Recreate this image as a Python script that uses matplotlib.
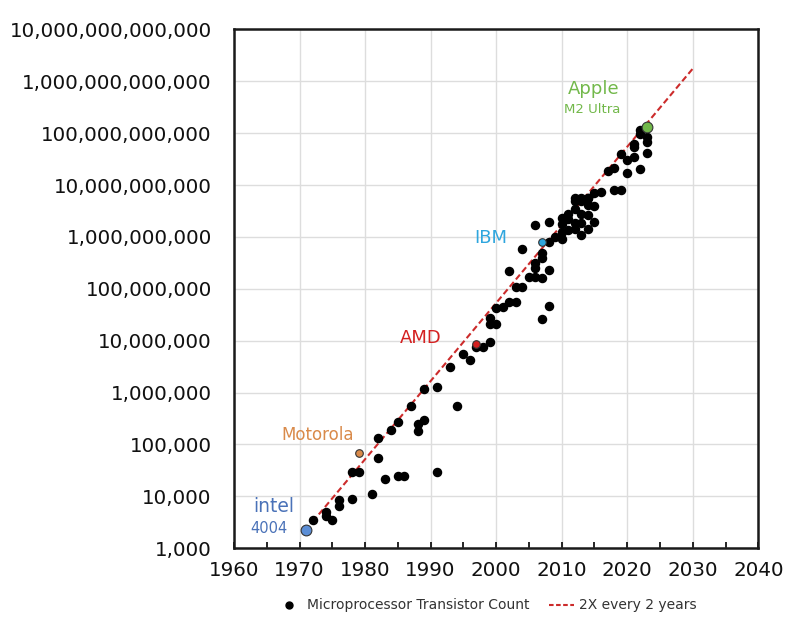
import numpy as np
import matplotlib.pyplot as plt
from matplotlib.ticker import FuncFormatter, MultipleLocator, NullLocator, FixedLocator
from matplotlib.lines import Line2D

plt.rcParams['font.family'] = ['DejaVu Sans']

# microprocessor transistor counts
years = [1972, 1974, 1974, 1975, 1976, 1976, 1978, 1978, 1979, 1981,
         1982, 1982, 1983, 1984, 1985, 1985, 1986, 1987, 1988, 1988,
         1989, 1989, 1991, 1991, 1993, 1994, 1995, 1996, 1997, 1998,
         1999, 1999, 1999, 2000, 2000, 2001, 2002, 2003, 2003, 2004,
         2005, 2002, 2004, 2006, 2006, 2006, 2007, 2007, 2007, 2007,
         2008, 2008, 2008, 2006, 2008, 2009, 2010, 2010, 2010, 2010,
         2011, 2011, 2011, 2012, 2012, 2012, 2012, 2013, 2013, 2013,
         2013, 2014, 2014, 2014, 2014, 2015, 2015, 2015, 2016, 2017,
         2018, 2018, 2019, 2019, 2020, 2020, 2021, 2021, 2021, 2022,
         2022, 2022, 2023, 2023, 2023, 2012, 2013, 2014]
counts = [3500, 4900, 4100, 3500, 8500, 6500, 9000, 29000, 29000, 11000,
          55000, 134000, 22000, 190000, 275000, 24500, 24500, 550000, 245000, 180000,
          300000, 1180000, 1300000, 29000, 3100000, 560000, 5500000, 4300000, 7500000, 7500000,
          9300000, 21000000, 27000000, 21000000, 42000000, 44000000, 55000000, 55000000, 110000000, 110000000,
          170000000, 220000000, 590000000, 170000000, 250000000, 310000000, 165000000, 480000000, 390000000, 26000000,
          47000000, 230000000, 780000000, 1700000000, 1900000000, 1000000000, 1260000000, 930000000, 2300000000, 1800000000,
          2800000000, 2200000000, 1350000000, 5000000000, 3400000000, 1400000000, 1860000000, 5000000000, 2800000000, 1860000000,
          1100000000, 5500000000, 4100000000, 2600000000, 1400000000, 6900000000, 4000000000, 1950000000, 7400000000, 19000000000,
          21000000000, 8000000000, 8000000000, 39000000000, 30000000000, 17000000000, 34000000000, 55000000000, 62000000000, 20000000000,
          95000000000, 117000000000, 83000000000, 68000000000, 41000000000, 5500000000, 5500000000, 5700000000]

# highlighted chips
hl_years = [1971, 1979, 1997, 2007, 2023]
hl_counts = [2300, 68000, 8800000, 790000000, 134000000000]
hl_colors = ['#5b8ed6', '#d98a4a', '#d42020', '#2fa6de', '#72b84a']
hl_sizes = [60, 30, 30, 30, 60]

# "2X every 2 years" trend line end points
trend_years = [1972, 2030]
trend_counts = [3250, 1.75e12]

fig = plt.figure(figsize=(7.87, 6.21), dpi=100)
ax = fig.add_axes([0.2973, 0.1171, 0.6663, 0.8357])

ax.plot(trend_years, trend_counts, color='#cc2b2b', lw=1.5, ls=(0, (3, 1.6)), zorder=3)
ax.scatter(years, counts, s=34, color='black', zorder=4)
for y, c, col, s in zip(hl_years, hl_counts, hl_colors, hl_sizes):
    ax.scatter(y, c, s=s, color=col, edgecolor='#333333', linewidth=0.8, zorder=5)

ax.set_yscale('log')
ax.set_xlim(1960, 2040)
ax.set_ylim(1e3, 1e13)
ax.yaxis.set_major_locator(FixedLocator([10.0 ** k for k in range(3, 14)]))
ax.yaxis.set_minor_locator(NullLocator())
ax.yaxis.set_major_formatter(FuncFormatter(lambda v, p: f"{int(round(v)):,}"))
ax.xaxis.set_major_locator(MultipleLocator(10))
ax.xaxis.set_minor_locator(MultipleLocator(5))

ax.grid(True, which='major', color='#dddddd', lw=1)
ax.set_axisbelow(True)
for sp in ax.spines.values():
    sp.set_linewidth(1.8)
    sp.set_color('#1a1a1a')

ax.tick_params(axis='y', length=0, pad=16, labelsize=14.3, labelcolor='#111111')
ax.tick_params(axis='x', which='both', direction='in', length=4, width=1.2,
               pad=9, labelsize=14.3, labelcolor='#111111')

# chip labels
ax.text(1966, 6300, 'intel', color='#4a72b8', fontsize=13.5, ha='center', va='center')
ax.text(1965.3, 2450, '4004', color='#4a72b8', fontsize=10.5, ha='center', va='center')
ax.text(1972.7, 152000, 'Motorola', color='#d98a4a', fontsize=12, ha='center', va='center')
ax.text(1988.5, 1.12e7, 'AMD', color='#d42020', fontsize=13, ha='center', va='center')
ax.text(1999.1, 9.5e8, 'IBM', color='#2fa6de', fontsize=13, ha='center', va='center')
ax.text(2014.9, 7.1e11, 'Apple', color='#72b84a', fontsize=13, ha='center', va='center')
ax.text(2014.6, 2.8e11, 'M2 Ultra', color='#72b84a', fontsize=9.5, ha='center', va='center')

handles = [Line2D([], [], marker='o', color='black', ls='none', markersize=5),
           Line2D([], [], color='#cc2b2b', lw=1.5, ls=(0, (2.2, 1.2)))]
fig.legend(handles, ['Microprocessor Transistor Count', '2X every 2 years'],
           loc='center', bbox_to_anchor=(0.618, 0.025), ncol=2, frameon=False,
           fontsize=10, handlelength=1.8, handletextpad=0.4, columnspacing=1.4,
           labelcolor='#333333')

fig.savefig('out.png', dpi=100)
